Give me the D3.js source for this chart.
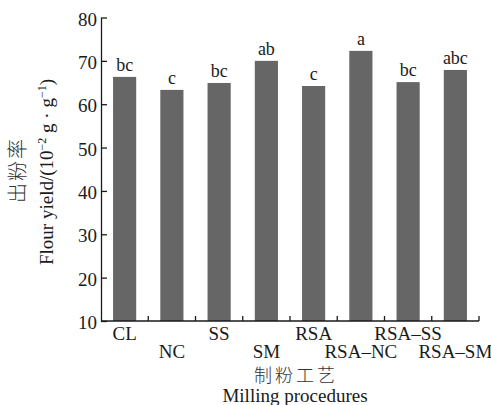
<!DOCTYPE html>
<html><head><meta charset="utf-8">
<script src="https://cdn.jsdelivr.net/npm/d3@7"></script>
<style>
body{margin:0;background:#fff;}
text{font-family:"Liberation Serif","Times New Roman",serif;fill:#1a1a1a;}
.cjk{font-family:"Noto Sans CJK SC","Noto Sans CJK JP",sans-serif;font-weight:300;fill:#333;}
</style></head>
<body><svg id="c" width="491" height="405"></svg>
<script>
const categories = ["CL","NC","SS","SM","RSA","RSA–NC","RSA–SS","RSA–SM"];
const values = [66.3, 63.3, 64.9, 70.0, 64.2, 72.3, 65.1, 67.9];
const letters = ["bc","c","bc","ab","c","a","bc","abc"];
const yTicks = [10,20,30,40,50,60,70,80];

const svg = d3.select("#c");
const mLeft = 101, mRight = 479, mTop = 17.5, mBottom = 321;
const x = d3.scaleBand().domain(categories).range([mLeft, mRight]).paddingInner(0.51).paddingOuter(0.255);
const y = d3.scaleLinear().domain([10, 80]).range([mBottom, mTop]);

// bars
svg.append("g").selectAll("rect").data(categories).join("rect")
  .attr("x", d => x(d)).attr("width", x.bandwidth())
  .attr("y", (d,i) => y(values[i])).attr("height", (d,i) => y(10) - y(values[i]))
  .attr("fill", "#666666");

// significance letters
svg.append("g").selectAll("text").data(categories).join("text")
  .attr("x", d => x(d) + x.bandwidth()/2)
  .attr("y", (d,i) => y(values[i]) - 6)
  .attr("text-anchor", "middle").attr("font-size", 18)
  .text((d,i) => letters[i]);

// y axis
const ya = svg.append("g").attr("transform", `translate(${mLeft},0)`)
  .call(d3.axisLeft(y).tickValues(yTicks).tickSizeInner(-6).tickSizeOuter(0).tickPadding(4));
ya.select(".domain").attr("stroke", "#1a1a1a").attr("stroke-width", 1.3);
ya.selectAll(".tick line").attr("stroke", "#1a1a1a").attr("stroke-width", 1.3);
ya.selectAll(".tick text").attr("font-size", 19).attr("font-family", "Liberation Serif").attr("fill", "#1a1a1a").attr("dy", "0.4em");

// x axis line
svg.append("line").attr("x1", mLeft).attr("x2", mRight).attr("y1", mBottom).attr("y2", mBottom)
  .attr("stroke", "#1a1a1a").attr("stroke-width", 1.3);
// x ticks at band boundaries
svg.append("g").selectAll("line").data(categories).join("line")
  .attr("x1", d => x(d) + x.bandwidth()/2 + x.step()/2)
  .attr("x2", d => x(d) + x.bandwidth()/2 + x.step()/2)
  .attr("y1", mBottom).attr("y2", mBottom - 5)
  .attr("stroke", "#1a1a1a").attr("stroke-width", 1.3);
// x labels (staggered)
svg.append("g").selectAll("text").data(categories).join("text")
  .attr("x", d => x(d) + x.bandwidth()/2)
  .attr("y", (d,i) => i % 2 === 0 ? 340 : 358)
  .attr("text-anchor", "middle").attr("font-size", 19)
  .text(d => d);

// x titles
svg.append("text").attr("class","cjk").attr("x", 296).attr("y", 382)
  .attr("text-anchor","middle").attr("font-size", 18).attr("letter-spacing", 3).text("制粉工艺");
svg.append("text").attr("x", 295).attr("y", 402)
  .attr("text-anchor","middle").attr("font-size", 19).text("Milling procedures");

// y titles
svg.append("text").attr("class","cjk").attr("transform","translate(25,170) rotate(-90)")
  .attr("text-anchor","middle").attr("font-size", 20).attr("letter-spacing", 2).text("出粉率");
const yt = svg.append("text").attr("transform","translate(53,172) rotate(-90)")
  .attr("text-anchor","middle").attr("font-size", 19);
yt.append("tspan").text("Flour yield/(10");
yt.append("tspan").attr("font-size", 12).attr("dy", -7).text("−2");
yt.append("tspan").attr("dy", 7).text(" g · g");
yt.append("tspan").attr("font-size", 12).attr("dy", -7).text("−1");
yt.append("tspan").attr("dy", 7).text(")");
</script></body></html>
